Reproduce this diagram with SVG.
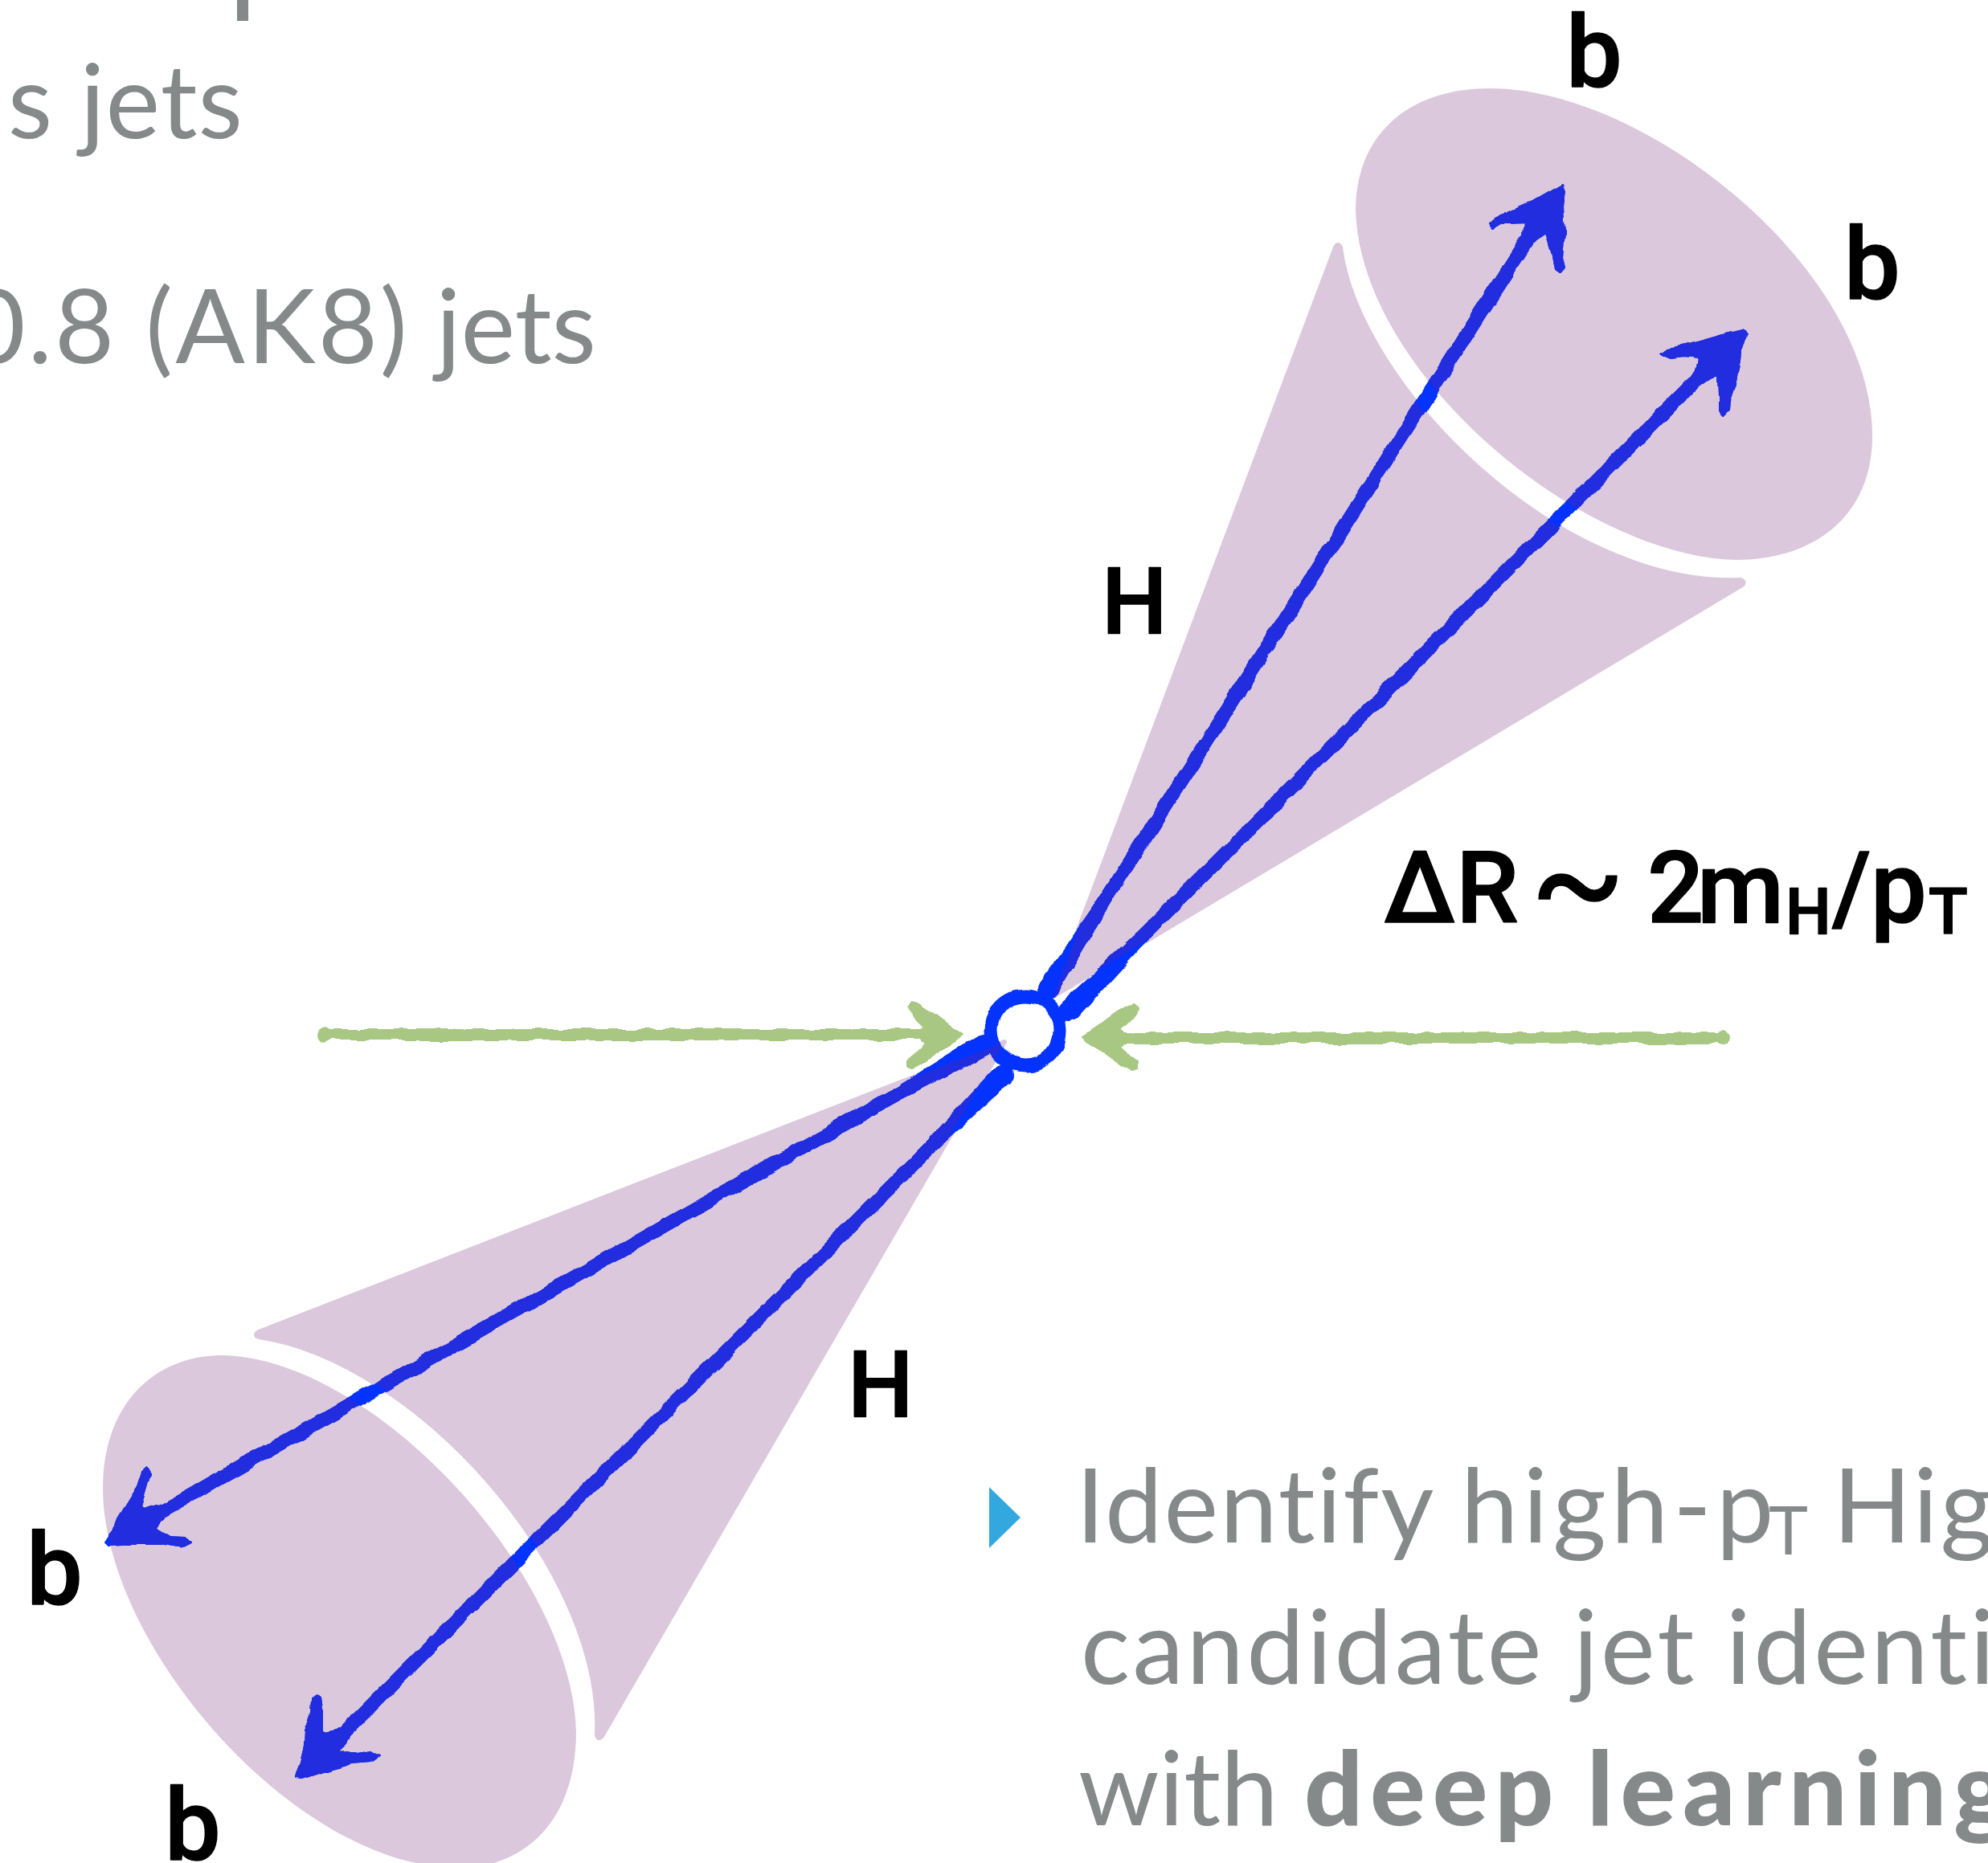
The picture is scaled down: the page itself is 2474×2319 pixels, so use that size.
<svg xmlns="http://www.w3.org/2000/svg" xmlns:xlink="http://www.w3.org/1999/xlink" width="2474" height="2319" viewBox="0 0 2474 2319">
  <style>
    .jet { fill: #dcc8dc; stroke: #dcc8dc; stroke-width: 6; stroke-linejoin: round; }
    .lobe { fill: #dcc8dc; }
    .shaft { fill: none; stroke: currentColor; stroke-width: 17; stroke-linecap: round; }
    .solid { fill: currentColor; stroke: currentColor; stroke-width: 2; stroke-linejoin: round; }
    .ring { fill: none; stroke: currentColor; stroke-width: 17; }
    .beam { fill: none; stroke: #a8c782; stroke-width: 14; stroke-linecap: round; }
    .beamhead { fill: #a8c782; stroke: #a8c782; stroke-width: 2; stroke-linejoin: round; }
    .body { font-family: "Lato", "Open Sans", sans-serif; font-size: 128px; fill: #858989; font-variant-ligatures: none; }
    .strong { font-weight: 900; letter-spacing: 9px; }
    .sub { font-size: 83px; }
    .label { font-family: "Roboto", "Liberation Sans", sans-serif; font-weight: 500; font-size: 124px; fill: #000; stroke: #000; stroke-width: 1.5; stroke-linejoin: round; }
    .heavy { font-size: 115px; }
    .minor { font-size: 80px; }
    .wave { font-size: 175px; font-weight: 400; }
  </style>
  <defs>
    <filter id="handdrawn" filterUnits="userSpaceOnUse" x="0" y="0" width="2474" height="2319" color-interpolation-filters="sRGB">
      <feTurbulence type="fractalNoise" baseFrequency="0.035" numOctaves="2" seed="4" result="noise"/>
      <feDisplacementMap in="SourceGraphic" in2="noise" scale="8" xChannelSelector="R" yChannelSelector="G"/>
    </filter>
    <path id="cone-up" d="M1311 1240 L1662 308 Q1665 302 1668 308 C1690 480 1940 731 2166 722 Q2172 724 2168 728 Z"/>
    <path id="lobe-up" d="M1854 110 C2050 110 2330 335 2330 543 C2330 640 2260 697 2160 697 C1966 692 1693 464 1687 262 C1687 170 1750 110 1854 110 Z"/>
    <path id="cone-down" d="M1250 1297 L322 1658 Q316 1662 322 1664 C517 1693 752 1953 743 2160 Q745 2166 749 2161 Z"/>
    <path id="lobe-down" d="M278 1687 C464 1692 711 1956 717 2155 C717 2270 650 2325 570 2325 C370 2325 128 2050 128 1852 C128 1750 190 1687 278 1687 Z"/>
    <clipPath id="jet-area">
      <use xlink:href="#cone-up"/>
      <use xlink:href="#lobe-up"/>
      <use xlink:href="#cone-down"/>
      <use xlink:href="#lobe-down"/>
    </clipPath>
    <g id="decay-lines" filter="url(#handdrawn)">
      <circle class="ring" cx="1276" cy="1283" r="43"/>
      <!-- b quark, upper left -->
      <path class="shaft" d="M1305 1230 L1903 295"/>
      <circle class="solid" cx="1305" cy="1230" r="12"/>
      <path class="solid" d="M1315 1237 L1295 1223 L1392 1084 L1402 1090 Z"/>
      <path class="solid" d="M1945 230 L1948 238 L1945 257 L1947 291 L1944 320 L1947 332 L1941 339 L1936 334 L1932 315 L1925 291 L1905 305 L1895 291 L1897 275 L1874 276 L1857 285 L1852 277 L1882 262 L1910 250 L1936 235 Z"/>
      <!-- b quark, upper right -->
      <path class="shaft" d="M1330 1258 L2106 478"/>
      <circle class="solid" cx="1330" cy="1258" r="12"/>
      <path class="solid" d="M1339 1267 L1321 1249 L1446 1133 L1454 1141 Z"/>
      <path class="solid" d="M2170 411 L2174 417 L2166 434 L2165 448 L2160 475 L2152 499 L2151 511 L2144 518 L2140 511 L2140 494 L2139 466 L2124 473 L2112 482 L2102 473 L2112 458 L2114 446 L2094 444 L2079 446 L2068 440 L2076 434 L2102 429 L2124 423 L2145 417 Z"/>
      <!-- b quark, lower left -->
      <path class="shaft" d="M1225 1300 L200 1882"/>
      <circle class="solid" cx="1225" cy="1300" r="12"/>
      <path class="solid" d="M1231 1311 L1219 1289 L1074 1379 L1080 1389 Z"/>
      <path class="solid" d="M130 1920 L134 1924 L153 1923 L179 1923 L204 1923 L227 1927 L237 1922 L230 1914 L212 1913 L199 1905 L193 1903 L204 1890 L196 1874 L179 1879 L176 1876 L183 1852 L188 1834 L183 1827 L177 1832 L171 1850 L156 1874 L145 1892 L140 1905 Z"/>
      <!-- b quark, lower right -->
      <path class="shaft" d="M1248 1338 L428 2157"/>
      <circle class="solid" cx="1248" cy="1338" r="12"/>
      <path class="solid" d="M1257 1347 L1239 1329 L1124 1454 L1132 1462 Z"/>
      <path class="solid" d="M368 2213 L375 2214 L393 2208 L413 2202 L439 2195 L462 2193 L472 2186 L462 2180 L446 2183 L434 2180 L423 2181 L434 2162 L421 2151 L406 2159 L401 2157 L401 2128 L399 2113 L394 2109 L389 2113 L388 2133 L380 2155 L379 2173 L374 2193 Z"/>
    </g>
    <path id="beam-head" d="M1347 1290 L1365 1278 L1385 1263 L1405 1252 L1413 1250 L1417 1255 L1413 1262 L1393 1282 L1400 1287 L1400 1298 L1395 1303 L1405 1315 L1416 1324 L1416 1330 L1410 1332 L1395 1324 L1375 1310 L1355 1298 Z"/>
  </defs>

  <rect width="2474" height="2319" fill="#fff"/>

  <g id="jets">
    <g id="jet-upper"><use class="jet" xlink:href="#cone-up"/><use class="lobe" xlink:href="#lobe-up"/></g>
    <g id="jet-lower"><use class="jet" xlink:href="#cone-down"/><use class="lobe" xlink:href="#lobe-down"/></g>
  </g>

  <g id="connectors">
    <g id="beams" filter="url(#handdrawn)">
      <path class="beam" d="M402 1288 L1170 1288"/>
      <circle cx="404" cy="1288" r="10" fill="#a8c782"/>
      <use class="beamhead" xlink:href="#beam-head" transform="translate(2545,-3) scale(-1,1)"/>
      <path class="beam" d="M1390 1292 L2146 1292"/>
      <circle cx="2144" cy="1292" r="10" fill="#a8c782"/>
      <use class="beamhead" xlink:href="#beam-head"/>
    </g>
    <g id="decays">
      <use xlink:href="#decay-lines" color="#0433ff"/>
      <g clip-path="url(#jet-area)"><use xlink:href="#decay-lines" color="#212ddf"/></g>
    </g>
  </g>

  <g id="labels">
    <text class="label" x="1949" y="108">b</text>
    <text class="label" x="2295" y="372">b</text>
    <text class="label" x="33" y="1997">b</text>
    <text class="label" x="205" y="2315">b</text>
    <text class="label heavy" x="1371" y="789">H</text>
    <text class="label heavy" x="1055" y="1764">H</text>
    <text class="label" y="1148"><tspan x="1722">Δ</tspan><tspan x="1812">R</tspan><tspan class="wave" x="1904" dy="8">~</tspan><tspan x="2050" dy="-8">2</tspan><tspan x="2112">m</tspan><tspan class="minor" x="2222" dy="14">H</tspan><tspan x="2280" dy="-14">/</tspan><tspan x="2328">p</tspan><tspan class="minor" x="2400" dy="14">T</tspan></text>
  </g>

  <g id="notes">
    <rect x="295" y="0" width="14" height="26" fill="#858989"/>
    <text class="body" x="303" y="172" text-anchor="end" letter-spacing="1">s jets</text>
    <text class="body" x="742" y="452" text-anchor="end"><tspan letter-spacing="3">0.8 (AK8)</tspan> jets</text>
    <path id="bullet" d="M1231 1851 L1270 1889 L1231 1927 Z" fill="#33a8df"/>
    <text class="body" y="1920"><tspan x="1339" letter-spacing="2">Identify</tspan><tspan x="1818" letter-spacing="6">high-p</tspan><tspan class="sub" x="2201" dy="15">T</tspan><tspan x="2281" dy="-15" letter-spacing="3">Hig</tspan></text>
    <text class="body" x="1345" y="2096" letter-spacing="3.4">candidate jet identi</text>
    <text class="body" y="2272"><tspan x="1342">with</tspan><tspan class="strong" x="1623">deep</tspan><tspan class="strong" x="1975">learning</tspan></text>
  </g>
</svg>
